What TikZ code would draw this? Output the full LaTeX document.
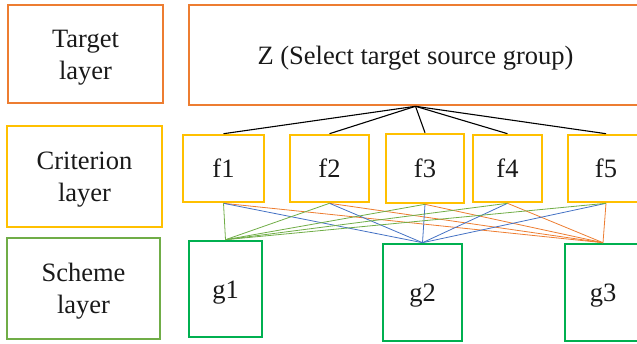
\documentclass[tikz,border=0pt]{standalone}
\usepackage{fontspec}
\setmainfont{Liberation Serif}
\definecolor{tgtorange}{HTML}{ED7D31}
\definecolor{critgold}{HTML}{FFC000}
\definecolor{schgreen}{HTML}{70AD47}
\definecolor{optgreen}{HTML}{00B050}
\definecolor{lnblue}{HTML}{4472C4}
\definecolor{lngreen}{HTML}{70AD47}
\definecolor{lnorange}{HTML}{ED7D31}
\begin{document}
\begin{tikzpicture}[x=1pt,y=-1pt,
  box/.style={draw,line width=2.6pt,inner sep=0pt,align=center,
    font=\fontsize{26.5}{32}\selectfont,text=black!90},
  txt/.style={inner sep=0pt,align=center,
    font=\fontsize{26.5}{32}\selectfont,text=black!90},
  tgt/.style={box,draw=tgtorange},
  crit/.style={box,draw=critgold},
  sch/.style={box,draw=schgreen},
  opt/.style={box,draw=optgreen,text height=18pt,text depth=0pt},
  tree/.style={black,line width=1.1pt},
  tog1/.style={lngreen,line width=0.8pt},
  tog2/.style={lnblue,line width=0.8pt},
  tog3/.style={lnorange,line width=0.8pt}]
\useasboundingbox (0,0) rectangle (637,343);
\clip (0,0) rectangle (637,343);

% layer captions
\node[tgt,minimum width=155pt,minimum height=98pt]  (T) at (85.5,54)   {};
\node[crit,minimum width=155pt,minimum height=101pt] (C) at (84.5,176.5) {};
\node[sch,minimum width=153pt,minimum height=101pt] (S) at (83.5,288.5) {};
\node[txt] (Tt) at ([yshift=-4pt]T.center) {Target\\layer};
\node[txt] (Ct) at ([yshift=-3pt]C.center) {Criterion\\layer};
\node[txt] (St) at ([yshift=-3pt]S.center) {Scheme\\layer};

% goal
\node[tgt,minimum width=453pt,minimum height=100pt] (Z) at (415.5,55) {};
\node[txt] (Zt) at ([yshift=-3pt]Z.center) {Z (Select target source group)};

% criteria
\node[crit,minimum width=81pt,minimum height=67pt] (f1) at (223.5,168.5) {f1};
\node[crit,minimum width=79pt,minimum height=67pt] (f2) at (329.5,168.5) {f2};
\node[crit,minimum width=78pt,minimum height=69pt] (f3) at (425,168.5)   {f3};
\node[crit,minimum width=69pt,minimum height=67pt] (f4) at (507.5,168.5) {f4};
\node[crit,minimum width=76pt,minimum height=67pt] (f5) at (606,168.5)   {f5};

% schemes
\node[opt,minimum width=73pt,minimum height=96pt] (g1) at (225.5,289)   {g1};
\node[opt,minimum width=79pt,minimum height=97pt] (g2) at (422.5,292.5) {g2};
\node[opt,minimum width=76pt,minimum height=97pt] (g3) at (603,292.5)   {g3};

% goal to criteria
\foreach \f in {f1,f2,f3,f4,f5}
  \draw[tree] (Z.south) -- (\f.north);

% criteria to schemes
\foreach \f in {f1,f2,f3,f4,f5} {
  \draw[tog3] (\f.south) -- (g3.north);
  \draw[tog2] (\f.south) -- (g2.north);
  \draw[tog1] (\f.south) -- (g1.north);
}
\end{tikzpicture}
\end{document}
